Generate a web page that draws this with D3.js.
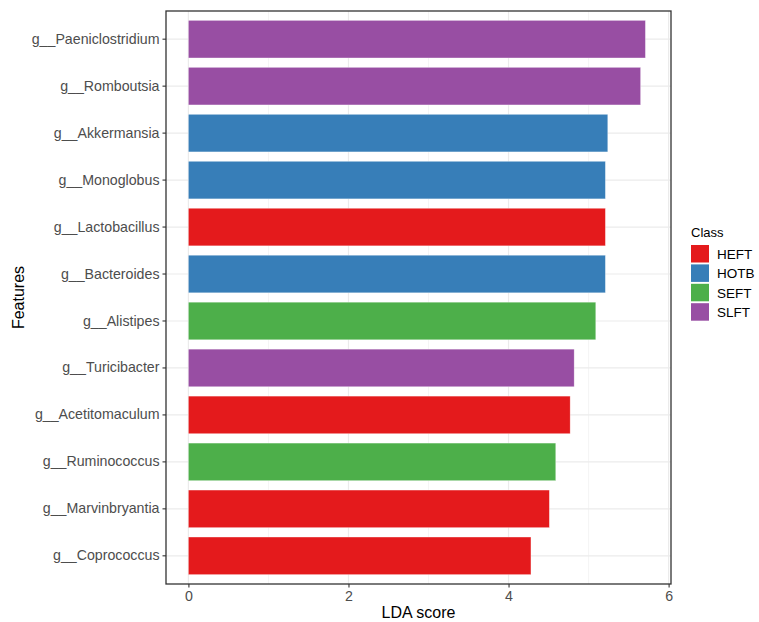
<!DOCTYPE html>
<html>
<head>
<meta charset="utf-8">
<script src="https://cdn.jsdelivr.net/npm/d3@7"></script>
<style>
  html, body { margin: 0; padding: 0; background: #fff; }
  svg { display: block; font-family: "Liberation Sans", Arial, sans-serif; }
</style>
</head>
<body>
<svg id="chart" width="759" height="622"></svg>
<script>
// ── Data ─────────────────────────────────────────────
const features = [
  'g__Paeniclostridium', 'g__Romboutsia', 'g__Akkermansia', 'g__Monoglobus',
  'g__Lactobacillus', 'g__Bacteroides', 'g__Alistipes', 'g__Turicibacter',
  'g__Acetitomaculum', 'g__Ruminococcus', 'g__Marvinbryantia', 'g__Coprococcus'
];
const ldaScores = [5.71, 5.65, 5.24, 5.21, 5.21, 5.21, 5.09, 4.82, 4.77, 4.59, 4.51, 4.28];
const featureClass = ['SLFT', 'SLFT', 'HOTB', 'HOTB', 'HEFT', 'HOTB', 'SEFT', 'SLFT', 'HEFT', 'SEFT', 'HEFT', 'HEFT'];
const classes = ['HEFT', 'HOTB', 'SEFT', 'SLFT'];
const classColors = ['#E41A1C', '#377EB8', '#4DAF4A', '#984EA3'];
const xTicks = [0, 2, 4, 6];
const xMinor = [1, 3, 5];

// ── Layout ───────────────────────────────────────────
const panel = { left: 166, right: 671, top: 11, bottom: 584 };

const svg = d3.select('#chart');

const x = d3.scaleLinear().domain([-0.28, 6.03]).range([panel.left, panel.right]);
const y = d3.scaleBand().domain(features).range([panel.top, panel.bottom])
  .paddingInner(0.2).paddingOuter(0.2);
const color = d3.scaleOrdinal().domain(classes).range(classColors);

// ── Grid ─────────────────────────────────────────────
const grid = svg.append('g');
grid.selectAll('line.minor').data(xMinor).join('line')
  .attr('x1', d => x(d)).attr('x2', d => x(d))
  .attr('y1', panel.top).attr('y2', panel.bottom)
  .attr('stroke', '#F2F2F2').attr('stroke-width', 0.8);
grid.selectAll('line.vmaj').data(xTicks).join('line')
  .attr('x1', d => x(d)).attr('x2', d => x(d))
  .attr('y1', panel.top).attr('y2', panel.bottom)
  .attr('stroke', '#EBEBEB').attr('stroke-width', 1.2);
grid.selectAll('line.hmaj').data(features).join('line')
  .attr('x1', panel.left).attr('x2', panel.right)
  .attr('y1', d => y(d) + y.bandwidth() / 2).attr('y2', d => y(d) + y.bandwidth() / 2)
  .attr('stroke', '#EBEBEB').attr('stroke-width', 1.2);

// ── Bars ─────────────────────────────────────────────
svg.append('g').selectAll('rect').data(features).join('rect')
  .attr('x', x(0))
  .attr('y', d => y(d))
  .attr('width', (d, i) => x(ldaScores[i]) - x(0))
  .attr('height', y.bandwidth())
  .attr('fill', (d, i) => color(featureClass[i]))
  .attr('stroke', '#ffffff').attr('stroke-opacity', 0.5).attr('stroke-width', 0.6);

// ── Panel border ─────────────────────────────────────
svg.append('rect')
  .attr('x', panel.left).attr('y', panel.top)
  .attr('width', panel.right - panel.left).attr('height', panel.bottom - panel.top)
  .attr('fill', 'none').attr('stroke', '#333333').attr('stroke-width', 1.3);

// ── Axes ─────────────────────────────────────────────
const xAxis = svg.append('g')
  .attr('transform', `translate(0,${panel.bottom})`)
  .call(d3.axisBottom(x).tickValues(xTicks).tickFormat(d3.format('d')).tickSize(3.5).tickPadding(3));
const yAxis = svg.append('g')
  .attr('transform', `translate(${panel.left},0)`)
  .call(d3.axisLeft(y).tickSize(3.5).tickPadding(3));

[xAxis, yAxis].forEach(ax => {
  ax.select('.domain').remove();
  ax.selectAll('.tick line').attr('stroke', '#333333').attr('stroke-width', 1.1);
  ax.selectAll('.tick text')
    .attr('fill', '#4D4D4D')
    .attr('font-size', 14.2)
    .attr('font-family', '"Liberation Sans", Arial, sans-serif');
});

// ── Axis titles ──────────────────────────────────────
svg.append('text')
  .attr('x', (panel.left + panel.right) / 2).attr('y', 618)
  .attr('text-anchor', 'middle').attr('font-size', 16).attr('fill', '#000')
  .text('LDA score');

svg.append('text')
  .attr('transform', `translate(24,${(panel.top + panel.bottom) / 2}) rotate(-90)`)
  .attr('text-anchor', 'middle').attr('font-size', 16).attr('fill', '#000')
  .text('Features');

// ── Legend ───────────────────────────────────────────
const legend = svg.append('g').attr('transform', 'translate(691,228)');
legend.append('text')
  .attr('x', 0).attr('y', 9)
  .attr('font-size', 13).attr('fill', '#000')
  .text('Class');

const keyStep = 19.4;
const item = legend.selectAll('g.item').data(classes).join('g')
  .attr('transform', (d, i) => `translate(0,${17 + i * keyStep})`);
item.append('rect')
  .attr('width', 18).attr('height', 17.5)
  .attr('fill', d => color(d));
item.append('text')
  .attr('x', 26).attr('y', 9).attr('dy', '0.35em')
  .attr('font-size', 13.5).attr('fill', '#000')
  .text(d => d);
</script>
</body>
</html>
